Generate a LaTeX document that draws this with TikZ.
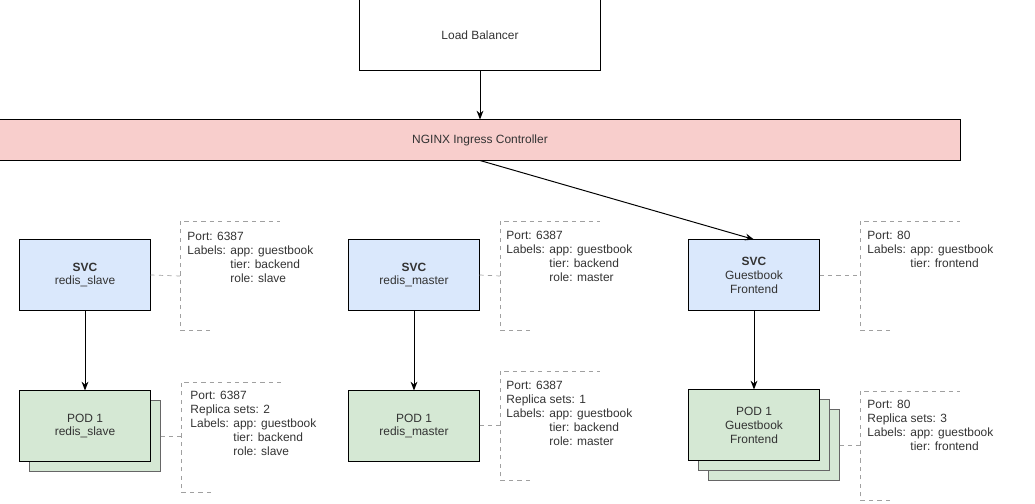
\documentclass[tikz,border=0pt]{standalone}
\usepackage{fontspec}
\setmainfont{Liberation Sans}
\usetikzlibrary{arrows.meta}

\definecolor{svcblue}{HTML}{DAE8FC}
\definecolor{podgreen}{HTML}{D5E8D4}
\definecolor{nginxred}{HTML}{F8CECC}
\definecolor{notegray}{HTML}{A0A0A0}
\definecolor{backgray}{HTML}{666666}
\definecolor{textgray}{HTML}{333333}

\tikzset{
    box/.style={draw, minimum width=3.25cm, minimum height=1.75cm, align=center, inner sep=0pt},
    svcbox/.style={box, fill=svcblue},
    podbox/.style={box, fill=podgreen},
    podback/.style={podbox, draw=backgray},
    notebr/.style={draw=notegray, dash pattern=on 3pt off 3pt, line width=0.5pt},
    notetxt/.style={anchor=north west, align=left, inner sep=0pt},
}

\begin{document}
\begin{tikzpicture}[x=0.025cm, y=-0.025cm, >={Stealth[length=2.2mm,width=1.7mm]}, line width=0.7pt,
    font=\fontsize{8.5}{9.9}\selectfont, text=textgray]
    \useasboundingbox (0,0) rectangle (1035,504);

    % oberer Teil
    \node[box, minimum width=6cm] (lb) at (480,35) {Load Balancer};
    \node[box, fill=nginxred, minimum width=24cm, minimum height=1cm] (ngx) at (480,140) {NGINX Ingress Controller};

    % Services
    \node[svcbox] (svc1) at (85,275) {\textbf{SVC}\\redis\_slave};
    \node[svcbox] (svc2) at (414,275) {\textbf{SVC}\\redis\_master};
    \node[svcbox] (svc3) at (754,275) {\textbf{SVC}\\Guestbook\\Frontend};

    % Pods (Kopien dahinter zuerst)
    \node[podback] (pod1b) at (95,436) {};
    \node[podbox] (pod1) at (85,426) {POD 1\\redis\_slave};
    \node[podbox] (pod2) at (414,426) {POD 1\\redis\_master};
    \node[podback] (pod3c) at (774,445) {};
    \node[podback] (pod3b) at (764,435) {};
    \node[podbox] (pod3) at (754,425) {POD 1\\Guestbook\\Frontend};

    % Pfeile
    \draw[->] (lb.south) -- (ngx.north);
    \draw[->] (ngx.south) -- (svc3.north);
    \draw[->] (svc1.south) -- (pod1.north);
    \draw[->] (svc2.south) -- (pod2.north);
    \draw[->] (svc3.south) -- (pod3.north);

    % Anmerkungen: Klammern
    \draw[notebr] (210,330) -- (180,330) -- (180,221) -- (280,221);
    \draw[notebr] (211,492) -- (181,492) -- (181,382) -- (281,382);
    \draw[notebr] (530,330) -- (500,330) -- (500,221) -- (600,221);
    \draw[notebr] (530,480) -- (500,480) -- (500,371) -- (600,371);
    \draw[notebr] (890,330) -- (860,330) -- (860,221) -- (960,221);
    \draw[notebr] (890,500) -- (860,500) -- (860,391) -- (960,391);

    \coordinate (n1) at (180,276);
    \coordinate (n2) at (181,436);
    \coordinate (n3) at (500,276);
    \coordinate (n4) at (500,425);
    \coordinate (n5) at (860,275);
    \coordinate (n6) at (860,445);

    \draw[notebr] (svc1.east) -- (n1);
    \draw[notebr] (pod1b.east |- n2) -- (n2);
    \draw[notebr] (svc2.east) -- (n3);
    \draw[notebr] (pod2.east |- n4) -- (n4);
    \draw[notebr] (svc3.east) -- (n5);
    \draw[notebr] (pod3c.east |- n6) -- (n6);

    % Anmerkungen: Text
    \node[notetxt] (t1) at (187,231.5) {Port: 6387\\Labels: app: guestbook\\\phantom{Labels: }tier: backend\\\phantom{Labels: }role: slave};
    \node[notetxt] (t2) at (190,390.5) {Port: 6387\\Replica sets: 2\\Labels: app: guestbook\\\phantom{Labels: }tier: backend\\\phantom{Labels: }role: slave};
    \node[notetxt] (t3) at (506,230.5) {Port: 6387\\Labels: app: guestbook\\\phantom{Labels: }tier: backend\\\phantom{Labels: }role: master};
    \node[notetxt] (t4) at (506,380.5) {Port: 6387\\Replica sets: 1\\Labels: app: guestbook\\\phantom{Labels: }tier: backend\\\phantom{Labels: }role: master};
    \node[notetxt] (t5) at (867,230.5) {Port: 80\\Labels: app: guestbook\\\phantom{Labels: }tier: frontend};
    \node[notetxt] (t6) at (867,399.5) {Port: 80\\Replica sets: 3\\Labels: app: guestbook\\\phantom{Labels: }tier: frontend};
\end{tikzpicture}
\end{document}
